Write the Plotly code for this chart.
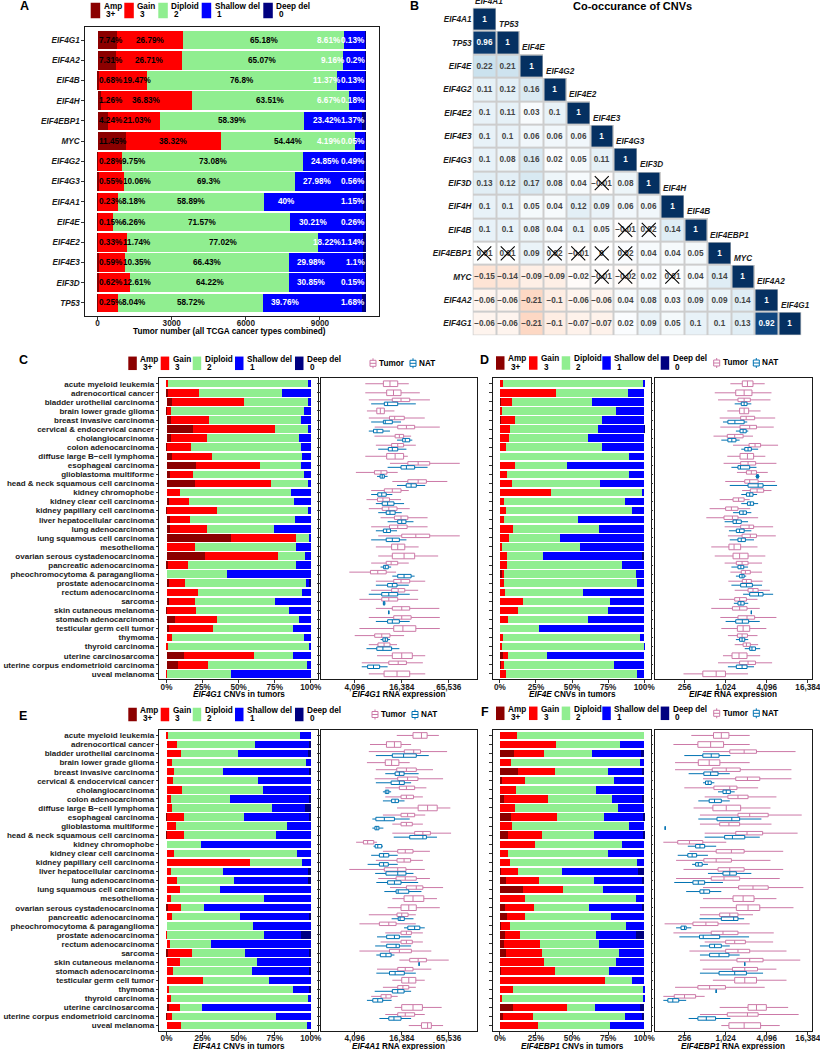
import math
import plotly.graph_objects as go

# ---------------------------------------------------------------- data
A_genes = ["EIF4G1", "EIF4A2", "EIF4B", "EIF4H", "EIF4EBP1", "MYC", "EIF4G2",
           "EIF4G3", "EIF4A1", "EIF4E", "EIF4E2", "EIF4E3", "EIF3D", "TP53"]
A_amp = [7.74, 7.31, 0.68, 1.26, 4.24, 11.45, 0.28, 0.55, 0.23, 0.15, 0.33, 0.59, 0.62, 0.25]
A_gain = [26.79, 26.71, 19.47, 36.83, 21.03, 38.32, 9.75, 10.06, 8.18, 6.26, 11.74, 10.35, 12.61, 8.04]
A_dip = [65.18, 65.07, 76.8, 63.51, 58.39, 54.44, 73.08, 69.3, 58.89, 71.57, 77.02, 66.43, 64.22, 58.72]
A_shal = [8.61, 9.16, 11.37, 6.67, 23.42, 4.19, 24.85, 27.98, 40, 30.21, 18.22, 29.98, 30.85, 39.76]
A_deep = [0.13, 0.2, 0.13, 0.18, 1.37, 0.05, 0.49, 0.56, 1.15, 0.26, 1.14, 1.1, 0.15, 1.68]
N_TOTAL = 10005  # tumours corresponding to 100 %
count_ticks = [0, 3000, 6000, 9000]

heat_genes = ["EIF4A1", "TP53", "EIF4E", "EIF4G2", "EIF4E2", "EIF4E3", "EIF4G3",
              "EIF3D", "EIF4H", "EIF4B", "EIF4EBP1", "MYC", "EIF4A2", "EIF4G1"]
corr_lower = [
    [1],
    [0.96, 1],
    [0.22, 0.21, 1],
    [0.11, 0.12, 0.16, 1],
    [0.1, 0.11, 0.03, 0.1, 1],
    [0.1, 0.1, 0.06, 0.06, 0.06, 1],
    [0.1, 0.08, 0.16, 0.02, 0.05, 0.11, 1],
    [0.13, 0.12, 0.17, 0.08, 0.04, -0.01, 0.08, 1],
    [0.1, 0.1, 0.05, 0.04, 0.12, 0.09, 0.06, 0.06, 1],
    [0.1, 0.1, 0.08, 0.04, 0.1, 0.05, -0.01, 0.02, 0.14, 1],
    [0.01, 0.01, 0.09, 0.02, -0.01, 0, 0.02, 0.04, 0.04, 0.05, 1],
    [-0.15, -0.14, -0.09, -0.09, -0.02, -0.01, -0.02, 0.02, 0.01, 0.04, 0.14, 1],
    [-0.06, -0.06, -0.21, -0.1, -0.06, -0.06, 0.04, 0.08, 0.03, 0.09, 0.09, 0.14, 1],
    [-0.06, -0.06, -0.21, -0.1, -0.07, -0.07, 0.02, 0.09, 0.05, 0.1, 0.1, 0.13, 0.92, 1],
]
nonsig_pairs = [("EIF3D", "EIF4E3"), ("EIF4B", "EIF4G3"), ("EIF4B", "EIF3D"),
                ("EIF4EBP1", "EIF4A1"), ("EIF4EBP1", "TP53"), ("EIF4EBP1", "EIF4G2"),
                ("EIF4EBP1", "EIF4E2"), ("EIF4EBP1", "EIF4E3"), ("EIF4EBP1", "EIF4G3"),
                ("MYC", "EIF4E3"), ("MYC", "EIF4G3"), ("MYC", "EIF4H")]

cancers = ["acute myeloid leukemia", "adrenocortical cancer", "bladder urothelial carcinoma",
           "brain lower grade glioma", "breast invasive carcinoma", "cervical & endocervical cancer",
           "cholangiocarcinoma", "colon adenocarcinoma", "diffuse large B\u2212cell lymphoma",
           "esophageal carcinoma", "glioblastoma multiforme", "head & neck squamous cell carcinoma",
           "kidney chromophobe", "kidney clear cell carcinoma", "kidney papillary cell carcinoma",
           "liver hepatocellular carcinoma", "lung adenocarcinoma", "lung squamous cell carcinoma",
           "mesothelioma", "ovarian serous cystadenocarcinoma", "pancreatic adenocarcinoma",
           "pheochromocytoma & paraganglioma", "prostate adenocarcinoma", "rectum adenocarcinoma",
           "sarcoma", "skin cutaneous melanoma", "stomach adenocarcinoma", "testicular germ cell tumor",
           "thymoma", "thyroid carcinoma", "uterine carcinosarcoma",
           "uterine corpus endometrioid carcinoma", "uveal melanoma"]
pct_ticks = [0, 25, 50, 75, 100]
pct_ticktext = ["0%", "25%", "50%", "75%", "100%"]
rna_ticks_hi = [4096, 16384, 65536]
rna_ticktext_hi = ["4,096", "16,384", "65,536"]
rna_ticks_lo = [256, 1024, 4096, 16384]
rna_ticktext_lo = ["256", "1,024", "4,096", "16,384"]

# --- C: EIF4G1 CNV (% of tumours)
C_amp = [0, 0.7, 3.9, 0.5, 2.8, 18.6, 2.8, 0.2, 3.9, 20.7, 2.3, 19.8, 0, 1.4, 0.5, 2.1, 2.3, 44.6, 0, 26.4, 1.1, 0, 1.6, 0, 1.6, 0.5, 6.0, 1.6, 0, 0, 12.4, 7.8, 0]
C_gain = [0.7, 21.6, 49.7, 2.9, 26.4, 56.4, 25.0, 17.0, 27.4, 44.3, 15.9, 52.4, 9.0, 14.5, 34.2, 14.2, 25.5, 45.0, 19.5, 50.6, 13.6, 0, 11.5, 22.1, 17.9, 20.2, 28.9, 30.4, 3.9, 0.7, 48.5, 20.7, 0.3]
C_dip = [97.6, 57.7, 44.6, 92.0, 64.3, 23.9, 64.1, 76.3, 62.7, 28.1, 77.4, 26.7, 77.4, 72.6, 63.5, 72.7, 46.9, 9.9, 70.4, 19.0, 75.2, 42.1, 83.7, 71.5, 55.9, 64.1, 56.6, 55.4, 91.5, 98.6, 26.5, 69.2, 44.7]
C_shal = [1.7, 20.0, 1.8, 4.6, 6.5, 1.1, 8.1, 6.5, 6.0, 6.9, 4.4, 1.1, 13.6, 11.5, 1.8, 11.0, 25.3, 0.5, 10.1, 4.0, 10.1, 57.9, 1.8, 6.4, 24.6, 15.2, 8.5, 12.6, 4.6, 0.7, 12.6, 2.3, 55.0]
C_deep = [0, 0, 0, 0, 0, 0, 0, 0, 0, 0, 0, 0, 0, 0, 0, 0, 0, 0, 0, 0, 0, 0, 1.4, 0, 0, 0, 0, 0, 0, 0, 0, 0, 0]
# --- D: EIF4E CNV
D_amp = [0, 0, 0.5, 0, 0.5, 0, 0, 0, 0, 0, 0, 0, 0, 0, 0, 0, 0, 0, 0, 0, 0, 1.1, 0, 0, 0, 0, 0, 0, 0, 0, 2.0, 0.5, 0]
D_gain = [2.3, 39.0, 7.8, 1.1, 9.8, 6.7, 6.0, 4.1, 0, 10.6, 4.6, 8.7, 35.1, 2.5, 4.4, 3.0, 9.4, 6.4, 1.1, 4.6, 5.0, 1.7, 3.0, 3.2, 15.8, 12.8, 5.3, 0.3, 1.8, 1.1, 3.7, 2.0, 3.9]
D_dip = [96.8, 50.0, 55.2, 79.6, 60.8, 61.0, 55.2, 66.5, 89.7, 35.7, 84.8, 61.0, 63.3, 84.0, 86.9, 51.1, 59.2, 34.9, 54.2, 25.0, 79.4, 91.2, 91.7, 54.6, 60.6, 62.2, 55.7, 26.5, 95.2, 98.7, 26.6, 76.6, 91.3]
D_shal = [0.9, 11.0, 36.5, 19.3, 28.9, 32.0, 38.8, 29.4, 10.3, 53.7, 10.6, 30.3, 1.6, 13.5, 8.7, 45.9, 31.4, 58.7, 44.7, 69.0, 15.6, 6.0, 5.3, 42.2, 23.6, 25.0, 39.0, 73.2, 3.0, 0.2, 67.7, 20.9, 4.8]
D_deep = [0, 0, 0, 0, 0, 0.3, 0, 0, 0, 0, 0, 0, 0, 0, 0, 0, 0, 0, 0, 1.4, 0, 0, 0, 0, 0, 0, 0, 0, 0, 0, 0, 0, 0]
# --- E: EIF4A1 CNV
E_amp = [0, 0, 0, 0, 0, 0, 0, 0, 0, 0.5, 0, 0.5, 0, 0, 0, 0, 0, 0, 0, 0.7, 0, 0, 0, 0, 0.9, 0, 0, 0, 0, 0, 1.4, 0.5, 0]
E_gain = [0.7, 7.6, 10.3, 4.1, 5.1, 4.8, 11.0, 3.0, 4.1, 11.9, 6.4, 11.5, 0, 5.1, 58.2, 3.0, 7.6, 9.2, 3.4, 9.2, 4.1, 0, 0.5, 2.3, 16.6, 9.4, 4.8, 25.3, 1.4, 3.0, 7.6, 3.4, 9.9]
E_dip = [91.7, 53.5, 38.9, 92.7, 33.8, 58.6, 55.7, 41.1, 69.0, 41.6, 77.3, 64.1, 24.1, 85.2, 35.8, 36.1, 39.3, 28.0, 64.4, 16.3, 46.9, 60.0, 67.3, 28.5, 36.8, 53.4, 54.5, 45.5, 86.4, 95.4, 15.8, 71.7, 87.8]
E_shal = [7.6, 38.2, 49.2, 3.2, 60.6, 36.6, 33.3, 54.5, 22.8, 45.3, 16.3, 23.9, 75.9, 9.7, 6.0, 58.8, 52.0, 62.8, 32.2, 73.8, 48.3, 40.0, 25.1, 69.2, 45.2, 37.2, 40.2, 29.2, 10.8, 1.6, 75.2, 24.4, 2.3]
E_deep = [0, 0.7, 1.6, 0, 0.5, 0, 0, 1.4, 4.1, 0.7, 0, 0, 0, 0, 0, 2.1, 1.1, 0, 0, 0, 0.7, 0, 7.1, 0, 0.5, 0, 0.5, 0, 1.4, 0, 0, 0, 0]
# --- F: EIF4EBP1 CNV
F_amp = [0, 0, 9.6, 0, 12.8, 1.1, 0, 2.7, 0, 7.8, 0, 5.9, 0, 0, 0, 0.9, 4.1, 15.8, 0, 3.7, 4.6, 0.5, 3.2, 2.7, 3.9, 0, 0.9, 0, 0, 0, 9.2, 2.1, 0]
F_gain = [11.7, 38.9, 20.8, 8.0, 25.2, 16.3, 11.4, 30.3, 10.5, 32.0, 8.5, 23.4, 24.3, 5.9, 6.9, 11.5, 22.7, 28.1, 17.4, 19.9, 13.0, 6.4, 11.0, 25.4, 25.4, 30.4, 37.3, 72.8, 9.2, 1.4, 37.5, 20.6, 26.5]
F_dip = [88.3, 44.6, 33.4, 89.3, 37.1, 61.8, 55.4, 45.0, 71.0, 32.1, 81.2, 35.7, 60.6, 68.7, 87.8, 30.4, 38.6, 27.3, 76.9, 38.4, 59.7, 80.3, 52.6, 40.5, 52.9, 49.9, 37.3, 19.0, 90.1, 98.1, 19.4, 64.0, 49.7]
F_shal = [0, 16.5, 33.9, 2.7, 23.5, 20.8, 33.2, 20.6, 18.5, 27.4, 10.3, 34.3, 15.1, 25.4, 5.3, 53.1, 33.0, 28.8, 5.7, 36.9, 22.7, 12.8, 27.5, 31.4, 17.8, 19.7, 24.5, 8.2, 0.7, 0.5, 30.7, 11.9, 23.8]
F_deep = [0, 0, 2.3, 0, 1.4, 0, 0, 1.4, 0, 0.7, 0, 0.7, 0, 0, 0, 4.1, 1.6, 0, 0, 1.1, 0, 0, 5.7, 0, 0, 0, 0, 0, 0, 0, 3.2, 1.4, 0]

# --- RNA expression box statistics (log2 units); tumour (t) and NAT (n)
C_t_lo = [12.45, 12.45, 12.60, 12.52, 12.60, 12.85, 12.84, 12.90, 12.45, 13.50, 12.05, 13.60, 12.70, 12.50, 12.60, 13.10, 12.70, 13.00, 12.90, 13.00, 12.70, 11.77, 12.90, 12.70, 12.20, 12.90, 12.60, 12.20, 12.00, 12.60, 12.95, 12.30, 12.60]
C_t_q1 = [13.22, 13.36, 13.60, 12.94, 13.48, 13.83, 13.72, 13.57, 13.36, 14.26, 12.84, 14.26, 13.26, 12.97, 13.17, 13.69, 13.48, 14.00, 13.57, 13.60, 13.34, 12.67, 13.66, 13.57, 13.15, 13.60, 13.66, 13.66, 12.85, 12.99, 13.60, 13.45, 13.25]
C_t_med = [13.50, 13.65, 13.97, 13.09, 13.70, 14.20, 13.90, 13.83, 13.72, 14.70, 13.12, 14.70, 13.60, 13.20, 13.45, 13.97, 13.83, 14.60, 13.83, 14.10, 13.55, 12.98, 13.97, 13.85, 13.45, 14.00, 14.00, 14.05, 13.15, 13.25, 14.00, 13.85, 13.80]
C_t_q3 = [13.83, 13.97, 14.34, 13.26, 14.11, 14.55, 14.08, 14.08, 14.08, 15.19, 13.37, 15.05, 13.97, 13.48, 13.80, 14.26, 14.23, 15.19, 14.13, 14.55, 13.83, 13.34, 14.34, 14.13, 13.83, 14.34, 14.40, 14.60, 13.50, 13.50, 14.45, 14.20, 14.34]
C_t_hi = [14.30, 14.77, 15.20, 13.69, 14.98, 15.62, 14.40, 14.60, 14.26, 16.47, 13.83, 15.94, 14.30, 13.97, 14.34, 15.10, 15.10, 16.47, 14.72, 15.55, 14.30, 13.76, 15.00, 14.70, 14.70, 15.60, 15.62, 15.62, 14.10, 13.80, 15.00, 14.90, 15.00]
C_n_lo = [None, None, 12.70, None, 12.70, 12.60, 13.80, 13.00, None, 13.40, 12.95, 13.80, 12.70, 12.90, 13.00, 13.40, 12.90, 12.70, None, None, 13.10, 13.60, 12.90, 12.60, 13.20, 13.45, 12.90, None, 13.10, 12.50, None, 12.30, None]
C_n_q1 = [None, None, 13.26, None, 13.22, 12.80, 14.04, 13.43, None, 13.97, 13.08, 14.19, 12.98, 13.17, 13.34, 13.83, 13.22, 13.34, None, None, 13.23, 13.83, 13.40, 13.15, 13.22, 13.45, 13.40, None, 13.20, 12.94, None, 12.55, None]
C_n_med = [None, None, 13.40, None, 13.30, 12.95, 14.15, 13.60, None, 14.20, 13.17, 14.40, 13.15, 13.40, 13.50, 14.00, 13.36, 13.60, None, None, 13.30, 14.10, 13.60, 13.45, 13.25, 13.45, 13.60, None, 13.30, 13.20, None, 12.80, None]
C_n_q3 = [None, None, 13.83, None, 13.60, 13.20, 14.34, 13.83, None, 14.55, 13.26, 14.62, 13.34, 13.67, 13.72, 14.18, 13.52, 13.90, None, None, 13.43, 14.40, 13.80, 13.83, 13.28, 13.45, 13.90, None, 13.40, 13.57, None, 13.06, None]
C_n_hi = [None, None, 14.60, None, 13.97, 13.50, 14.45, 14.20, None, 15.10, 13.40, 15.00, 13.60, 14.10, 14.00, 14.50, 13.80, 14.20, None, None, 13.55, 14.55, 14.30, 14.34, 13.30, 13.45, 14.34, None, 13.50, 13.90, None, 13.40, None]

D_t_lo = [10.23, 9.47, 9.63, 10.08, 9.71, 9.74, 9.41, 10.36, 10.08, 9.90, 10.55, 9.98, 10.80, 9.71, 9.22, 9.06, 9.95, 10.11, 9.30, 9.47, 9.95, 10.23, 10.13, 10.44, 9.68, 9.30, 9.74, 9.79, 10.11, 10.44, 9.87, 9.63, 7.95]
D_t_q1 = [10.81, 10.49, 10.60, 10.68, 10.73, 10.70, 10.08, 11.14, 10.70, 10.73, 11.01, 10.93, 11.20, 10.36, 10.00, 9.92, 10.73, 10.80, 10.16, 10.36, 10.52, 10.76, 10.81, 11.09, 10.44, 10.33, 10.60, 10.57, 10.57, 10.85, 10.31, 10.68, 8.89]
D_t_med = [11.06, 10.90, 10.90, 10.90, 11.00, 11.17, 10.44, 11.43, 11.06, 11.09, 11.25, 11.17, 11.53, 10.63, 10.28, 10.33, 11.14, 11.20, 10.41, 10.68, 10.80, 10.96, 11.01, 11.33, 10.68, 10.68, 11.04, 10.85, 10.80, 11.01, 10.65, 11.09, 9.54]
D_t_q3 = [11.33, 11.28, 11.20, 11.12, 11.41, 11.50, 10.85, 11.70, 11.36, 11.46, 11.50, 11.58, 11.85, 10.90, 10.60, 10.60, 11.36, 11.50, 10.73, 11.09, 11.09, 11.20, 11.25, 11.58, 11.01, 11.04, 11.41, 11.17, 11.06, 11.20, 11.04, 11.45, 9.99]
D_t_hi = [11.90, 12.23, 12.18, 11.70, 12.41, 12.34, 11.33, 12.55, 11.93, 12.47, 12.05, 12.41, 12.23, 11.17, 11.20, 11.58, 12.31, 12.44, 11.55, 11.93, 11.77, 11.77, 11.80, 12.15, 11.55, 11.66, 12.47, 11.98, 11.55, 11.58, 11.68, 12.26, 11.09]
D_n_lo = [None, None, 10.44, None, 9.87, 10.50, 9.79, 10.76, None, 10.28, 11.45, 10.20, 10.76, 10.76, 10.36, 9.95, 10.16, 10.20, None, None, 10.28, 10.50, 10.28, 10.85, 10.40, 11.25, 10.00, None, 10.50, 10.93, None, 10.11, None]
D_n_q1 = [None, None, 10.76, None, 10.11, 10.70, 10.11, 10.93, None, 10.60, 11.50, 11.09, 11.01, 11.06, 10.68, 10.36, 10.52, 10.60, None, None, 10.60, 10.68, 10.73, 11.17, 10.60, 11.25, 10.49, None, 10.68, 11.17, None, 10.52, None]
D_n_med = [None, None, 10.90, None, 10.45, 10.85, 10.30, 11.09, None, 10.72, 11.55, 11.58, 11.17, 11.20, 10.85, 10.52, 10.68, 10.76, None, None, 10.74, 10.80, 11.01, 11.60, 10.74, 11.25, 10.81, None, 10.80, 11.28, None, 10.80, None]
D_n_q3 = [None, None, 11.04, None, 10.90, 11.00, 10.50, 11.25, None, 11.17, 11.60, 11.82, 11.33, 11.36, 11.01, 10.76, 10.90, 10.96, None, None, 10.88, 10.90, 11.30, 11.82, 10.90, 11.25, 11.12, None, 10.93, 11.45, None, 11.04, None]
D_n_hi = [None, None, 11.25, None, 11.05, 11.10, 10.68, 11.58, None, 11.50, 11.65, 12.50, 11.53, 11.58, 11.25, 11.09, 11.25, 11.38, None, None, 11.09, 11.00, 11.77, 12.31, 11.10, 11.25, 11.66, None, 11.10, 11.68, None, 11.38, None]

E_t_lo = [13.79, 12.65, 12.60, 12.52, 12.90, 12.85, 13.30, 13.30, 13.80, 13.20, 13.60, 13.60, 12.06, 13.20, 12.90, 11.77, 13.00, 13.50, 13.60, 13.40, 12.60, 12.20, 13.30, 13.10, 12.20, 13.90, 12.95, 13.60, 13.20, 12.70, 13.70, 13.30, 14.30]
E_t_q1 = [14.48, 13.35, 14.11, 13.30, 13.79, 13.83, 13.90, 13.97, 14.70, 13.97, 13.97, 14.55, 12.37, 13.83, 13.80, 13.26, 13.76, 14.20, 14.10, 13.97, 13.80, 13.05, 13.97, 13.97, 13.48, 14.34, 13.83, 14.00, 13.83, 13.12, 14.00, 13.83, 14.84]
E_t_med = [14.84, 13.69, 14.51, 13.57, 14.20, 14.25, 14.20, 14.20, 15.10, 14.25, 14.20, 14.90, 12.55, 14.15, 14.10, 13.83, 14.15, 14.62, 14.48, 14.30, 14.00, 13.45, 14.20, 14.20, 13.90, 14.70, 14.15, 14.30, 14.05, 13.33, 14.48, 14.15, 15.10]
E_t_q3 = [15.08, 13.97, 14.80, 13.88, 14.62, 14.69, 14.55, 14.50, 15.51, 14.55, 14.45, 15.22, 12.81, 14.48, 14.38, 14.18, 14.62, 14.90, 14.94, 14.62, 14.27, 13.76, 14.41, 14.45, 14.41, 15.05, 14.48, 14.60, 14.30, 13.55, 14.88, 14.55, 15.26]
E_t_hi = [15.58, 14.40, 15.93, 14.34, 15.33, 15.76, 15.05, 14.90, 16.07, 15.00, 14.90, 16.10, 12.95, 15.20, 14.90, 14.98, 15.20, 15.76, 15.50, 15.62, 14.60, 14.60, 14.90, 14.90, 15.26, 16.00, 15.26, 14.98, 14.60, 13.83, 15.70, 14.98, 15.76]
E_n_lo = [None, None, 12.90, None, 13.30, 12.90, 13.20, 13.20, None, 12.75, 12.75, 13.66, 12.80, 12.70, 12.55, 12.87, 12.92, 13.26, None, None, 13.57, 14.10, 12.95, 12.87, 12.92, 14.74, 12.92, None, 12.85, 12.52, None, 13.05, None]
E_n_q1 = [None, None, 13.60, None, 13.72, 13.55, 13.30, 13.57, None, 12.90, 12.86, 14.34, 12.87, 13.05, 13.05, 13.33, 13.40, 13.76, None, None, 13.85, 14.26, 13.36, 13.36, 13.09, 14.74, 13.48, None, 13.60, 12.77, None, 13.45, None]
E_n_med = [None, None, 14.08, None, 13.90, 13.90, 13.37, 13.72, None, 13.26, 12.94, 14.90, 12.98, 13.23, 13.23, 13.83, 13.69, 13.85, None, None, 13.93, 14.55, 13.69, 13.76, 13.33, 14.74, 13.72, None, 13.83, 12.98, None, 13.67, None]
E_n_q3 = [None, None, 14.62, None, 14.10, 14.11, 13.45, 13.86, None, 13.69, 13.03, 15.05, 13.15, 13.45, 13.43, 14.18, 13.97, 14.30, None, None, 14.11, 14.77, 13.90, 13.90, 13.55, 14.74, 14.11, None, 14.10, 13.19, None, 13.97, None]
E_n_hi = [None, None, 15.15, None, 14.72, 14.40, 13.55, 14.12, None, 14.34, 13.22, 15.50, 13.20, 13.83, 13.83, 14.50, 14.70, 14.84, None, None, 14.50, 14.98, 14.40, 14.40, 13.69, 14.74, 14.60, None, 14.40, 13.57, None, 14.40, None]

F_t_lo = [8.33, 7.46, 8.90, 7.54, 7.54, 8.90, 7.99, 8.98, 8.44, 8.75, 8.75, 8.98, 6.97, 8.24, 7.59, 7.95, 7.59, 8.90, 8.90, 8.75, 8.75, 7.03, 7.46, 8.98, 8.24, 8.75, 8.88, 9.38, 7.54, 6.97, 9.71, 8.75, 9.79]
F_t_q1 = [9.41, 8.65, 10.20, 8.67, 9.35, 10.49, 9.43, 10.11, 9.38, 10.60, 9.71, 10.49, 7.67, 9.54, 8.94, 9.63, 9.30, 10.63, 10.36, 10.52, 9.71, 8.41, 9.30, 10.00, 10.00, 10.55, 10.33, 10.44, 8.65, 7.50, 11.09, 10.08, 10.16]
F_t_med = [9.79, 9.27, 10.90, 9.20, 10.03, 11.06, 10.20, 10.60, 10.03, 11.17, 10.16, 11.04, 8.24, 10.28, 9.54, 10.20, 9.92, 11.33, 10.85, 11.09, 10.20, 9.04, 9.87, 10.44, 10.60, 11.17, 10.93, 10.93, 9.22, 8.00, 11.50, 11.06, 10.90]
F_t_q3 = [10.16, 9.90, 11.50, 9.72, 10.71, 11.66, 10.55, 11.09, 10.73, 12.07, 10.68, 11.80, 8.89, 10.90, 10.28, 10.90, 10.68, 12.07, 11.38, 11.66, 10.60, 9.63, 10.60, 10.96, 11.17, 11.82, 11.55, 11.50, 9.99, 8.54, 11.98, 11.58, 11.70]
F_t_hi = [11.17, 11.17, 13.40, 11.17, 13.20, 13.20, 11.58, 12.47, 12.18, 13.70, 12.23, 13.50, 10.03, 12.80, 12.18, 12.80, 12.63, 13.78, 12.47, 13.30, 11.33, 11.17, 12.34, 12.31, 12.96, 13.63, 12.47, 12.96, 11.90, 8.98, 13.04, 13.55, 12.63]
F_n_lo = [None, None, 7.99, None, 8.20, 8.90, 9.63, 8.67, None, 8.67, 7.06, 8.98, 8.16, 7.67, 8.37, 9.14, 7.50, 8.08, None, None, 8.73, 7.59, 7.75, 8.75, 8.75, 10.93, 8.75, None, 9.54, 6.97, None, 8.20, None]
F_n_q1 = [None, None, 8.89, None, 8.94, 9.02, 9.87, 9.20, None, 9.58, 7.06, 9.95, 8.54, 8.16, 8.54, 9.87, 8.41, 8.75, None, None, 9.79, 7.83, 8.73, 9.22, 9.22, 10.93, 9.68, None, 9.54, 7.19, None, 8.65, None]
F_n_med = [None, None, 9.30, None, 9.27, 9.15, 10.03, 9.46, None, 10.30, 7.06, 10.33, 8.75, 8.37, 8.67, 10.20, 8.67, 8.94, None, None, 10.39, 8.00, 8.91, 9.46, 9.68, 10.93, 10.44, None, 9.54, 7.43, None, 9.06, None]
F_n_q3 = [None, None, 9.68, None, 9.63, 9.30, 10.23, 9.79, None, 10.68, 7.06, 10.93, 8.98, 8.59, 8.86, 10.52, 8.98, 9.22, None, None, 10.60, 8.08, 9.71, 9.79, 10.16, 10.93, 11.01, None, 9.54, 7.72, None, 9.51, None]
F_n_hi = [None, None, 10.23, None, 10.20, 9.45, 10.44, 10.20, None, 11.74, 7.06, 11.66, 9.54, 9.14, 9.14, 11.25, 9.87, 9.79, None, None, 10.90, 8.33, 11.14, 10.20, 10.68, 10.93, 11.82, None, 9.54, 8.08, None, 10.23, None]

# ---------------------------------------------------------------- style
W, H = 820, 1050
FONT = "Liberation Sans, Arial, Helvetica, sans-serif"
FS = 8.2
FS_CAT = 8.0
CNV_COLORS = ["#8B0000", "#FF0000", "#90EE90", "#0000FF", "#000080"]
CNV_LABELS = ["Amp", "Gain", "Diploid", "Shallow del", "Deep del"]
CNV_SUB = ["3+", "3", "2", "1", "0"]
TUMOR_C = "#CC79A7"
NAT_C = "#0072B2"
LINE_C = "#1a1a1a"


def X(px):
    return px / W


def Y(py):
    return 1 - py / H


def dx(a, b):
    return [a / W, b / W]


def dy(top, bottom):
    return [1 - bottom / H, 1 - top / H]


fig = go.Figure()
annotations = []
shapes = []


def text_ann(x, y, text, size=FS, xanchor="center", yanchor="middle", color="black",
             xref="paper", yref="paper", bold=True, italic=False):
    t = text
    if italic:
        t = "<i>" + t + "</i>"
    if bold:
        t = "<b>" + t + "</b>"
    annotations.append(dict(x=x, y=y, xref=xref, yref=yref, text=t, showarrow=False,
                            xanchor=xanchor, yanchor=yanchor, borderpad=0,
                            font=dict(family=FONT, size=size, color=color)))


def base_axis(domain, xaxis=True, **kw):
    d = dict(domain=domain, showline=True, mirror=True, linecolor=LINE_C, linewidth=1.2,
             showgrid=False, zeroline=False, ticks="outside", ticklen=2.5, tickwidth=1,
             tickcolor="#333333", automargin=False, ticklabeloverflow="allow",
             tickfont=dict(family=FONT, size=FS, color="#1a1a1a", weight="bold"))
    if xaxis:
        d["ticklabelstandoff"] = -3
    d.update(kw)
    return d


layout_axes = {}

# ---------------------------------------------------------------- panel A
ppu = (379 - 85) / (11390 + 510)  # pixels per tumour
A_rows = list(range(len(A_genes)))
A_segments = [A_amp, A_gain, A_dip, A_shal, A_deep]
for seg, col in zip(A_segments, CNV_COLORS):
    fig.add_trace(go.Bar(orientation="h", y=A_rows, x=[v * N_TOTAL / 100 for v in seg],
                         width=0.92, marker=dict(color=col, line=dict(width=0)),
                         xaxis="x", yaxis="y", hoverinfo="skip", showlegend=False))

layout_axes["xaxis"] = base_axis(dx(85, 379), anchor="y", range=[-510, 11390],
                                 tickvals=count_ticks, ticktext=[str(v) for v in count_ticks])
layout_axes["yaxis"] = base_axis(dy(27, 316), xaxis=False, anchor="x", range=[13.65, -0.65],
                                 tickvals=A_rows, ticktext=A_genes,
                                 tickfont=dict(family=FONT, size=FS, color="#1a1a1a",
                                               weight="bold", style="italic"))


def tw(s):
    w = 0.0
    for ch in s:
        w += 0.556 if ch.isdigit() else (0.278 if ch == "." else (0.889 if ch == "%" else 0.5))
    return w * FS


for i in A_rows:
    vals = [seg[i] for seg in A_segments]
    counts = [v * N_TOTAL / 100 for v in vals]
    starts = [sum(counts[:k]) for k in range(5)]
    total = sum(counts)
    txt = [f"{v:g}%" for v in vals]
    text_ann(0, i, txt[0], xanchor="left", xref="x", yref="y")
    amp_end = tw(txt[0]) / ppu
    gx = max(starts[1] + counts[1] / 2, amp_end + (2 + tw(txt[1]) / 2) / ppu)
    text_ann(gx, i, txt[1], xref="x", yref="y")
    text_ann(starts[2] + counts[2] / 2, i, txt[2], xref="x", yref="y")
    deep_left = total - tw(txt[4]) / ppu
    sx = min(starts[3] + 9 * N_TOTAL / 100, deep_left - (2 + tw(txt[3]) / 2) / ppu)
    text_ann(sx, i, txt[3], xref="x", yref="y", color="white")
    text_ann(total, i, txt[4], xanchor="right", xref="x", yref="y", color="white")

text_ann(X(229), Y(332), "Tumor number (all TCGA cancer types combined)")

# ---------------------------------------------------------------- panel B
n = len(heat_genes)
z = [[None] * n for _ in range(n)]
zg = [[None] * n for _ in range(n)]
txt = [[""] * n for _ in range(n)]


def fmt(v):
    s = f"{v:g}"
    return s.replace("-", "\u2212")


for r, row in enumerate(corr_lower):
    for c, v in enumerate(row):
        z[r][c] = v
        zg[r][c] = 1
        txt[r][c] = "<b>" + fmt(v) + "</b>"

fig.add_trace(go.Heatmap(z=zg, x=list(range(n)), y=list(range(n)),
                         colorscale=[[0, "#cdcdcd"], [1, "#cdcdcd"]], showscale=False,
                         xaxis="x2", yaxis="y2", hoverinfo="skip"))
rdbu = [[0.0, "#67001f"], [0.1, "#b2182b"], [0.2, "#d6604d"], [0.3, "#f4a582"],
        [0.4, "#fddbc7"], [0.5, "#ffffff"], [0.6, "#d1e5f0"], [0.7, "#92c5de"],
        [0.8, "#4393c3"], [0.9, "#2166ac"], [1.0, "#053061"]]
fig.add_trace(go.Heatmap(z=z, x=list(range(n)), y=list(range(n)), zmin=-1, zmax=1,
                         colorscale=rdbu, showscale=False, xgap=2, ygap=2,
                         text=txt, texttemplate="%{text}",
                         textfont=dict(family=FONT, size=FS),
                         xaxis="x2", yaxis="y2", hoverinfo="skip"))
fig.add_trace(go.Scatter(x=[heat_genes.index(c) for r, c in nonsig_pairs],
                         y=[heat_genes.index(r) for r, c in nonsig_pairs],
                         mode="markers", xaxis="x2", yaxis="y2", hoverinfo="skip",
                         marker=dict(symbol="x-thin-open", size=14, color="black",
                                     line=dict(width=1.1, color="black")),
                         showlegend=False))
layout_axes["xaxis2"] = dict(domain=dx(472.5, 801.5), anchor="y2", range=[-0.5, n - 0.5],
                             visible=False, showgrid=False, zeroline=False)
layout_axes["yaxis2"] = dict(domain=dy(7.6, 335.2), anchor="x2", range=[n - 0.5, -0.5],
                             tickvals=list(range(n)), ticktext=heat_genes, ticks="",
                             showline=False, showgrid=False, zeroline=False,
                             automargin=False,
                             tickfont=dict(family=FONT, size=FS, color="#1a1a1a",
                                           weight="bold", style="italic"))
for k, g in enumerate(heat_genes):
    annotations.append(dict(x=k - 0.42, y=k - 0.5, xref="x2", yref="y2", showarrow=False,
                            text="<b><i>" + g + "</i></b>", xanchor="left", yanchor="bottom",
                            borderpad=0, yshift=1,
                            font=dict(family=FONT, size=FS, color="#1a1a1a")))
text_ann(X(632), Y(6), "Co-occurance of CNVs", size=11)

# ---------------------------------------------------------------- panels C-F
rows = list(range(len(cancers)))


def cnv_panel(xa, ya, segs, xdom, ydom, show_labels):
    for seg, col in zip(segs, CNV_COLORS):
        fig.add_trace(go.Bar(orientation="h", y=rows, x=seg, width=0.82,
                             marker=dict(color=col, line=dict(width=0)),
                             xaxis=xa, yaxis=ya, hoverinfo="skip", showlegend=False))
    xk = "xaxis" + xa[1:]
    yk = "yaxis" + ya[1:]
    layout_axes[xk] = base_axis(xdom, anchor=ya, range=[-5, 105], tickvals=pct_ticks,
                                ticktext=pct_ticktext)
    layout_axes[yk] = base_axis(ydom, xaxis=False, anchor=xa, range=[32.6, -0.6],
                                tickvals=rows, ticktext=cancers, showticklabels=show_labels,
                                tickfont=dict(family=FONT, size=FS_CAT, color="#1a1a1a",
                                              weight="bold"))


def box_panel(xa, ya, xdom, ydom, lrange, tickvals, ticktext,
              t_lo, t_q1, t_med, t_q3, t_hi, n_lo, n_q1, n_med, n_q3, n_hi):
    single = [i for i in rows if n_med[i] is None]
    paired = [i for i in rows if n_med[i] is not None]

    def add(idx, pos, lo, q1, med, q3, hi, width, color):
        fig.add_trace(go.Box(orientation="h", y=pos,
                             lowerfence=[2 ** lo[i] for i in idx],
                             q1=[2 ** q1[i] for i in idx],
                             median=[2 ** med[i] for i in idx],
                             q3=[2 ** q3[i] for i in idx],
                             upperfence=[2 ** hi[i] for i in idx],
                             width=width, whiskerwidth=0, boxpoints=False,
                             line=dict(color=color, width=1), fillcolor="white",
                             xaxis=xa, yaxis=ya, hoverinfo="skip", showlegend=False))

    add(single, single, t_lo, t_q1, t_med, t_q3, t_hi, 0.62, TUMOR_C)
    add(paired, [i - 0.22 for i in paired], t_lo, t_q1, t_med, t_q3, t_hi, 0.38, TUMOR_C)
    add(paired, [i + 0.22 for i in paired], n_lo, n_q1, n_med, n_q3, n_hi, 0.38, NAT_C)
    xk = "xaxis" + xa[1:]
    yk = "yaxis" + ya[1:]
    l2 = math.log10(2)
    layout_axes[xk] = base_axis(xdom, anchor=ya, type="log",
                                range=[lrange[0] * l2, lrange[1] * l2],
                                tickvals=tickvals, ticktext=ticktext)
    layout_axes[yk] = base_axis(ydom, xaxis=False, anchor=xa, range=[32.6, -0.6],
                                tickvals=rows, showticklabels=False)


def cnv_legend(lefts, yc, sw, sh):
    for left, lab, sub, col in zip(lefts, CNV_LABELS, CNV_SUB, CNV_COLORS):
        shapes.append(dict(type="rect", xref="paper", yref="paper", x0=X(left),
                           x1=X(left + sw), y0=Y(yc + sh / 2), y1=Y(yc - sh / 2),
                           fillcolor=col, line=dict(width=0)))
        text_ann(X(left + sw + 2.5), Y(yc - 4.3), lab, xanchor="left")
        text_ann(X(left + sw + 5), Y(yc + 4.3), sub, xanchor="left")


def box_icon(xc, yc, color):
    shapes.append(dict(type="line", xref="paper", yref="paper", x0=X(xc), x1=X(xc),
                       y0=Y(yc - 5), y1=Y(yc + 5), line=dict(color=color, width=1)))
    shapes.append(dict(type="rect", xref="paper", yref="paper", x0=X(xc - 3), x1=X(xc + 3),
                       y0=Y(yc + 3), y1=Y(yc - 3), fillcolor="white",
                       line=dict(color=color, width=1)))
    shapes.append(dict(type="line", xref="paper", yref="paper", x0=X(xc - 3), x1=X(xc + 3),
                       y0=Y(yc), y1=Y(yc), line=dict(color=color, width=1)))


def box_legend(x_tumor, x_nat, yc):
    box_icon(x_tumor, yc, TUMOR_C)
    text_ann(X(x_tumor + 5), Y(yc), "Tumor", xanchor="left")
    box_icon(x_nat, yc, NAT_C)
    text_ann(X(x_nat + 5), Y(yc), "NAT", xanchor="left")


panels = [
    ("C", "EIF4G1", [C_amp, C_gain, C_dip, C_shal, C_deep],
     [C_t_lo, C_t_q1, C_t_med, C_t_q3, C_t_hi, C_n_lo, C_n_q1, C_n_med, C_n_q3, C_n_hi],
     (159.3, 318), (320.7, 476.7), (378.3, 679.3), True, "hi", ("x3", "y3", "x4", "y4")),
    ("D", "EIF4E", [D_amp, D_gain, D_dip, D_shal, D_deep],
     [D_t_lo, D_t_q1, D_t_med, D_t_q3, D_t_hi, D_n_lo, D_n_q1, D_n_med, D_n_q3, D_n_hi],
     (492.7, 651.4), (654.5, 812), (378.3, 679.3), False, "lo", ("x5", "y5", "x6", "y6")),
    ("E", "EIF4A1", [E_amp, E_gain, E_dip, E_shal, E_deep],
     [E_t_lo, E_t_q1, E_t_med, E_t_q3, E_t_hi, E_n_lo, E_n_q1, E_n_med, E_n_q3, E_n_hi],
     (159.3, 318), (320.7, 476.7), (730, 1031), True, "hi", ("x7", "y7", "x8", "y8")),
    ("F", "EIF4EBP1", [F_amp, F_gain, F_dip, F_shal, F_deep],
     [F_t_lo, F_t_q1, F_t_med, F_t_q3, F_t_hi, F_n_lo, F_n_q1, F_n_med, F_n_q3, F_n_hi],
     (492.7, 651.4), (654.5, 812), (730, 1031), False, "lo", ("x9", "y9", "x10", "y10")),
]

for letter, gene, segs, stats, bdom, xdom2, ydom, lab, scale, axs in panels:
    xa, ya, xb, yb = axs
    cnv_panel(xa, ya, segs, dx(*bdom), dy(*ydom), lab)
    if scale == "hi":
        box_panel(xb, yb, dx(*xdom2), dy(*ydom), (10.553, 17.19), rna_ticks_hi,
                  rna_ticktext_hi, *stats)
    else:
        box_panel(xb, yb, dx(*xdom2), dy(*ydom), (6.54, 14.2), rna_ticks_lo,
                  rna_ticktext_lo, *stats)
    bottom = ydom[1]
    text_ann(X((bdom[0] + bdom[1]) / 2), Y(bottom + 15), "<i>" + gene + "</i> CNVs in tumors")
    text_ann(X((xdom2[0] + xdom2[1]) / 2), Y(bottom + 15), "<i>" + gene + "</i> RNA expression")

# legends
cnv_legend([90.7, 124.3, 158.3, 201.7, 263.3], 10.5, 9.5, 15.5)
cnv_legend([128.3, 160.7, 192.7, 235, 295], 363.3, 8.5, 13.5)
cnv_legend([496, 529, 561.7, 602.3, 660.7], 363, 8.5, 13.5)
cnv_legend([128.3, 160.7, 192.7, 235, 295], 714.5, 8.5, 13.5)
cnv_legend([496, 529, 561.7, 602.3, 660.7], 713.3, 8.5, 13.5)
box_legend(373, 413, 363.3)
box_legend(716.7, 756.3, 363)
box_legend(375, 415, 714.5)
box_legend(716.7, 756.3, 713.3)

# panel letters
for letter, px, py in [("A", 24, 6), ("B", 414, 6), ("C", 23.5, 360), ("D", 484, 360),
                       ("E", 23, 716), ("F", 485, 712)]:
    text_ann(X(px), Y(py), letter, size=12.5)

fig.update_layout(width=W, height=H, margin=dict(l=0, r=0, t=0, b=0),
                  paper_bgcolor="white", plot_bgcolor="white", showlegend=False,
                  barmode="stack", boxmode="overlay",
                  font=dict(family=FONT, size=FS, color="#1a1a1a"),
                  annotations=annotations, shapes=shapes, **layout_axes)

fig.write_html("out.html", config={"displayModeBar": False},
               post_script="document.body.style.margin='0px';"
                           "document.documentElement.style.overflow='hidden';")
